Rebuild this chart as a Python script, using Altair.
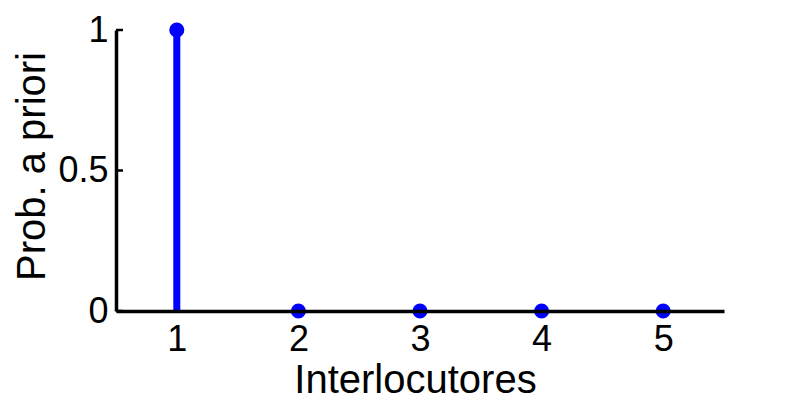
import altair as alt
import pandas as pd

interlocutores = [1, 2, 3, 4, 5]
prob = [1.0, 0.0, 0.0, 0.0, 0.0]
y_ticks = [0, 0.5, 1]

df = pd.DataFrame({"x": interlocutores, "y": prob, "y0": [0.0] * len(prob)})
df_yt = pd.DataFrame({"y": y_ticks})

FONT = "Liberation Sans"
BLUE = "#0000FF"

xscale = alt.Scale(domain=[0.5, 5.5], nice=False, zero=False)
yscale = alt.Scale(domain=[0, 1], nice=False)

xaxis = alt.Axis(values=interlocutores, format="d", title="Interlocutores",
                 tickSize=0, labelPadding=11, grid=False, domainColor="black",
                 domainWidth=3.5, labelFontSize=36, titleFontSize=40,
                 labelFont=FONT, titleFont=FONT, labelColor="black", titleColor="black",
                 titleFontWeight="normal", titleX=299, titleY=81,
                 titleBaseline="alphabetic", titleAlign="center", zindex=1)
yaxis = alt.Axis(values=y_ticks, format="~g", title="Prob. a priori",
                 tickSize=0, labelPadding=8, grid=False, domainColor="black",
                 domainWidth=3.5, labelFontSize=36, titleFontSize=40,
                 labelFont=FONT, titleFont=FONT, labelColor="black", titleColor="black",
                 titleFontWeight="normal", titleX=-72, titleY=136,
                 titleBaseline="alphabetic", titleAlign="center", zindex=1)

stems = alt.Chart(df).mark_rule(color=BLUE, strokeWidth=7).encode(
    x=alt.X("x:Q", scale=xscale, axis=xaxis),
    y=alt.Y("y0:Q", scale=yscale, axis=yaxis),
    y2="y:Q",
)
dots = alt.Chart(df).mark_circle(color=BLUE, size=227, opacity=1).encode(
    x=alt.X("x:Q", scale=xscale),
    y=alt.Y("y:Q", scale=yscale),
)
yticks = alt.Chart(df_yt).mark_rule(color="black", strokeWidth=2.5).encode(
    y=alt.Y("y:Q", scale=yscale),
    x=alt.value(0),
    x2=alt.value(7),
)

chart = alt.layer(stems, yticks, dots).properties(
    width=608, height=281,
    autosize=alt.AutoSizeParams(type="none"),
    padding={"left": 108, "top": 22, "right": 60, "bottom": 89},
).configure(background="white", view=alt.ViewConfig(stroke=None))

chart.save("out.html", embed_options={"renderer": "svg", "actions": False})
